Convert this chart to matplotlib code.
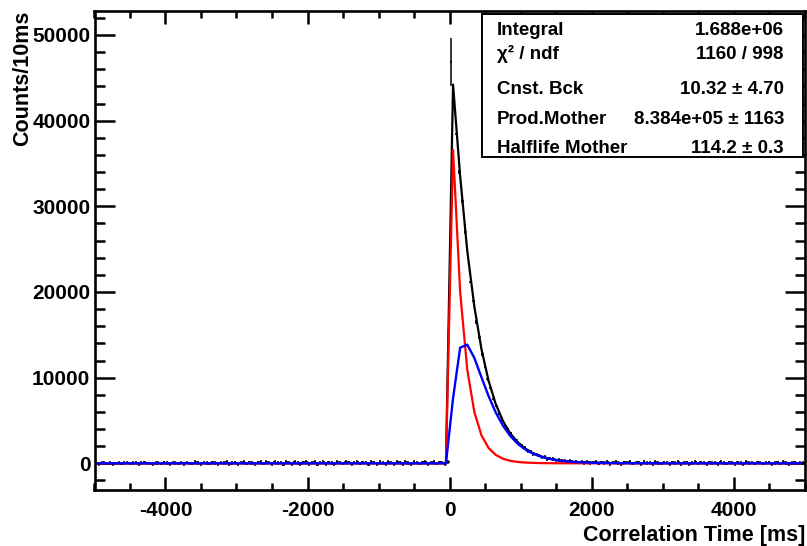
import numpy as np
import matplotlib
matplotlib.use("Agg")
import matplotlib.pyplot as plt
from matplotlib.patches import Rectangle
from matplotlib.ticker import MultipleLocator

plt.rcParams["font.family"] = ["Liberation Sans", "DejaVu Sans"]
plt.rcParams["font.weight"] = "bold"
plt.rcParams["axes.unicode_minus"] = False

# histogram, 40 ms sampling of the 10 ms bins (bin centres -4980 ... 4980)
BIN_STEP = 40
counts_before = [
    40, -60, 90, 20, -30, 70, -80, 10, 50, -40,
    30, 80, -50, 20, 60, -70, 40, 100, -20, 10,
    -90, 50, 30, -40, 120, 20, -60, 80, 40, -30,
    70, -100, 60, 10, -50, 130, 30, -80, 90, 20,
    -40, 110, 50, -120, 80, 30, 150, -60, 40, 100,
    -90, 60, 170, -30, 120, 40, -140, 90, 180, -50,
    130, 60, -110, 160, 20, 90, -150, 140, 70, -60,
    190, 30, -120, 110, 160, -90, 60, 140, -170, 80,
    150, -60, 120, 40, -130, 170, 70, -50, 140, 100,
    -110, 90, 160, -40, 120, 60, -150, 130, 80, -70,
    150, 40, -100, 170, 90, -60, 130, 110, -80, 160,
    50, -120, 140, 90, -50, 120, 170, -90, 60, 130,
    -40, 110, 80, -70, 150,
]
counts_decay = [
    46800, 42300, 38400, 34000, 30600, 27000, 24100, 21200, 18900, 16500,
    14700, 12750, 11350, 9800, 8750, 7550, 6720, 5790, 5160, 4400,
    3950, 3480, 2900, 2680, 2210, 2050, 1810, 1420, 1390, 1080,
    1060, 920, 700, 730, 510, 560, 480, 330, 400, 250,
    320, 180, 260, 120, 210, 90, 170, 40, 150, 20,
]
counts_tail = [
    60, 150, -40, 110, 30, 130, -60, 90, 140, 20,
    -80, 120, 60, 150, -30, 80, 110, -70, 130, 40,
    90, -100, 140, 50, -40, 120, 70, -130, 100, 30,
    150, -60, 80, 110, -90, 40, 130, -50, 100, 60,
    -70, 120, 30, 90, -110, 140, 50, -40, 110, 70,
    -60, 100, 40, -80, 130, 20, 90, -50, 110, 60,
    -30, 80, 120, -60, 50, 100, -40, 140, 30, -90,
    70, 120, -50, 90, 40,
]
COUNT_ERR = 200
PEAK_ERR = 2800

# fit curves as drawn (100 ms grid)
fit_t = [-4950, -50, 50, 150, 250, 350, 450, 550, 650, 750, 850, 950, 1050,
         1150, 1250, 1350, 1450, 1550, 1650, 1750, 1850, 1950, 2050, 2250,
         2450, 2950, 4950]
fit_total = [10, 10, 44210, 33510, 24810, 18290, 13330, 9650, 6945, 4985,
             3560, 2550, 1815, 1295, 920, 657, 469, 335, 238, 172, 126, 90,
             68, 40, 25, 14, 10]
fit_mother = [0, 0, 36600, 20000, 10950, 5980, 3270, 1790, 985, 545, 300,
              170, 95, 55, 30, 17, 9, 5, 3, 2, 1, 0, 0, 0, 0, 0, 0]
fit_daughter = [0, 0, 7600, 13500, 13850, 12300, 10050, 7850, 5950, 4430,
                3250, 2370, 1710, 1230, 880, 630, 450, 320, 225, 160, 115,
                80, 58, 30, 15, 4, 0]

stats_labels = ["Integral", "\u03c7\u00b2 / ndf", "Cnst. Bck", "Prod.Mother",
                "Halflife Mother"]
stats_values = ["1.688e+06", "1160 / 998", "10.32 \u00b1 4.70",
                "8.384e+05 \u00b1 1163", "114.2 \u00b1 0.3"]

counts = np.array(counts_before + counts_decay + counts_tail, dtype=float)
centres = np.arange(-5000 + BIN_STEP / 2, 5000, BIN_STEP)
errs = np.full(len(counts), float(COUNT_ERR))
errs[len(counts_before)] = PEAK_ERR

fig = plt.figure(figsize=(8.07, 5.46), dpi=100)
ax = fig.add_axes([94.5 / 807, 1 - 490 / 546, 710 / 807, 479 / 546])

ax.errorbar(centres, counts, yerr=errs, xerr=BIN_STEP / 2, fmt="none",
            ecolor="black", elinewidth=1.1, zorder=2)
ax.plot(fit_t, fit_total, color="black", lw=1.6, zorder=3)
ax.plot(fit_t, fit_mother, color="#ff0000", lw=1.6, zorder=4)
ax.plot(fit_t, fit_daughter, color="#0000ff", lw=1.7, zorder=5)

ax.set_xlim(-5000, 5000)
ax.set_ylim(-3117, 52800)
ax.xaxis.set_major_locator(MultipleLocator(2000))
ax.xaxis.set_minor_locator(MultipleLocator(500))
ax.yaxis.set_major_locator(MultipleLocator(10000))
ax.yaxis.set_minor_locator(MultipleLocator(2000))
ax.tick_params(axis="both", which="both", direction="in", top=True,
               right=True, width=1.8, labelsize=15)
ax.tick_params(axis="x", which="major", length=9.4, pad=8)
ax.tick_params(axis="x", which="minor", length=5)
ax.tick_params(axis="y", which="major", length=14.4, pad=3)
ax.tick_params(axis="y", which="minor", length=7.2)
for lab in ax.get_xticklabels() + ax.get_yticklabels():
    lab.set_fontweight("bold")
for sp in ax.spines.values():
    sp.set_linewidth(1.9)

fig.text(805 / 807, 4.5 / 546, "Correlation Time [ms]", ha="right",
         va="baseline", fontsize=15.5, fontweight="bold")
fig.text(23 / 807, 1 - 11 / 546, "Counts/10ms", rotation=90, ha="center",
         va="top", fontsize=15.5, fontweight="bold")

# stats box
ax.add_patch(Rectangle((0.5458, 0.6952), 0.4521, 0.2985,
                       transform=ax.transAxes, facecolor="white",
                       edgecolor="black", lw=1.4, zorder=10))
row_y = [0.9499, 0.8998, 0.8267, 0.7641, 0.7035]
for yy, lab, val in zip(row_y, stats_labels, stats_values):
    ax.text(0.5669, yy, lab, transform=ax.transAxes, ha="left",
            va="baseline", fontsize=13.5, fontweight="bold", zorder=11)
    ax.text(0.9711, yy, val, transform=ax.transAxes, ha="right",
            va="baseline", fontsize=13.5, fontweight="bold", zorder=11)

fig.savefig("out.png", dpi=100)
